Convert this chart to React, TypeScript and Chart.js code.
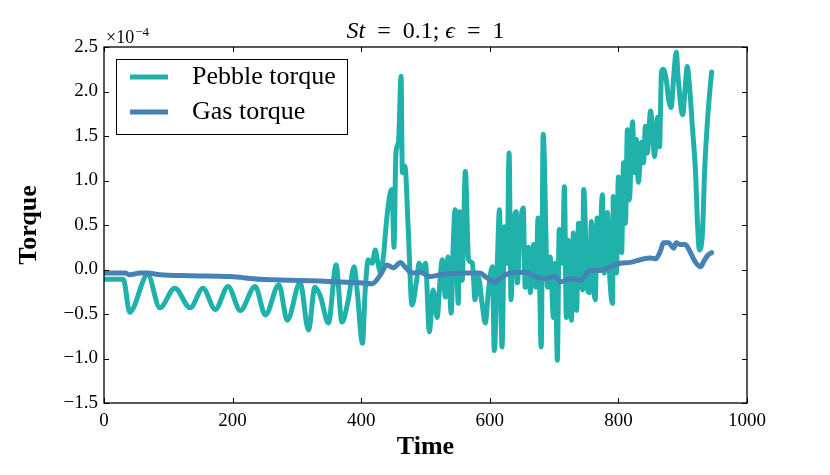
import { useEffect, useRef } from "react";
import { Chart, registerables } from "chart.js";

Chart.register(...registerables);

// values in units of 1e-4
const pebbleTime = [
  0, 30, 40, 68, 87, 110, 134, 154, 173, 193,
  212, 235, 251, 272, 285, 305, 318, 328, 336, 349,
  361, 370, 380, 389, 394, 402, 406, 411, 417, 422,
  425, 430, 434, 440, 445, 448, 451, 454, 458, 462,
  464, 468, 473, 479, 487, 490, 495, 500, 506, 512,
  518, 523, 526, 531, 535, 540, 543, 546, 551, 553,
  557, 562, 567, 573, 577, 582, 588, 593, 598, 604,
  607, 612, 615, 619, 623, 627, 630, 633, 637, 641,
  643, 647, 652, 655, 660, 663, 668, 672, 675, 680,
  683, 690, 694, 699, 702, 705, 708, 713, 716, 719,
  722, 727, 730, 735, 738, 741, 744, 746, 752, 755,
  758, 761, 764, 767, 770, 775, 778, 783, 786, 791,
  792, 797, 800, 805, 808, 811, 814, 817, 822, 825,
  828, 831, 836, 839, 842, 845, 850, 854, 856, 861,
  864, 867, 870, 875, 878, 882, 886, 890, 893, 900,
  904, 907, 911, 915, 920, 923, 926, 931, 934, 939,
  942, 945,
];
const pebbleTorque = [
  -0.11, -0.11, -0.48, -0.06, -0.43, -0.21, -0.43, -0.21, -0.45, -0.19,
  -0.46, -0.19, -0.51, -0.17, -0.57, -0.15, -0.68, -0.2, -0.29, -0.6,
  0.05, -0.59, -0.34, 0.03, -0.26, -0.83, -0.26, 0.11, 0.07, 0.22,
  0.11, -0.03, 0.11, 0.59, 0.86, 0.9, 0.25, 1.31, 1.43, 2.17,
  1.09, 1.16, 0.48, -0.4, -0.08, 0.07, -0.01, 0.07, -0.7, -0.23,
  -0.54, -0.08, 0.11, -0.31, 0.14, -0.49, 0.25, 0.67, -0.38, 0.65,
  -0.12, 1.1, 0.11, 0.07, -0.34, -0.08, -0.38, -0.6, -0.23, 0.03,
  -0.91, 0.14, 0.67, -0.87, 0.48, 0.07, 1.31, -0.34, 0.45, 0.65,
  -0.15, 0.45, 0.69, -0.2, 0.25, -0.26, 0.28, -0.2, 0.58, -0.87,
  1.52, -0.2, 0.14, -0.54, 0.07, -1.02, 0.45, 0.07, 0.93, -0.54,
  0.33, -0.57, 0.41, -0.46, 0.52, 0.48, -0.23, 0.9, -0.23, -0.26,
  0.54, -0.12, -0.34, 0.58, -0.01, 0.84, -0.04, 0.64, -0.01, -0.38,
  0.82, -0.04, 1.04, 0.19, 1.2, 0.52, 1.57, 0.78, 1.66, 1.09,
  1.46, 0.98, 1.43, 1.2, 1.61, 1.31, 1.78, 1.46, 1.27, 1.71,
  1.38, 2.22, 2.25, 2.1, 1.91, 1.82, 2.17, 2.44, 2.14, 1.74,
  2.06, 2.28, 2.02, 1.61, 1.09, 0.52, 0.22, 0.45, 1.09, 1.72,
  1.99, 2.22,
];

const gasTime = [
  0, 17, 33, 40, 56, 68, 87, 134, 196, 243,
  289, 336, 367, 398, 417, 430, 440, 450, 461, 468,
  479, 492, 507, 523, 559, 585, 593, 609, 616, 632,
  655, 671, 686, 702, 710, 725, 741, 756, 772, 788,
  803, 819, 834, 850, 858, 866, 870, 878, 886, 890,
  896, 904, 912, 920, 928, 932, 939, 945,
];
const gasTorque = [
  -0.04, -0.04, -0.04, -0.06, -0.04, -0.04, -0.06, -0.07, -0.08, -0.11,
  -0.12, -0.13, -0.14, -0.15, -0.16, -0.06, 0.05, 0.02, 0.08, 0.03,
  -0.04, -0.03, -0.08, -0.06, -0.04, -0.04, -0.08, -0.14, -0.1, -0.04,
  -0.03, -0.08, -0.1, -0.08, -0.14, -0.1, -0.12, -0.01, -0.01, 0.03,
  0.07, 0.08, 0.11, 0.13, 0.12, 0.22, 0.3, 0.3, 0.24, 0.3,
  0.28, 0.28, 0.19, 0.08, 0.03, 0.08, 0.16, 0.19,
];

const xTicks = [0, 200, 400, 600, 800, 1000];
const yTicks = [-1.5, -1.0, -0.5, 0.0, 0.5, 1.0, 1.5, 2.0, 2.5];

const PEBBLE = "#20B2AA";
const GAS = "#4682B4";
const SERIF = "'Liberation Serif', 'DejaVu Serif', serif";

const fmtY = (v: number) => (v < 0 ? "\u2212" + Math.abs(v).toFixed(1) : v.toFixed(1));

const framePlugin = {
  id: "frame",
  afterDatasetsDraw(chart: any) {
    const { ctx, chartArea: a, scales } = chart;
    ctx.save();

    // axes box with inward ticks
    ctx.strokeStyle = "#000";
    ctx.lineWidth = 1.3;
    ctx.strokeRect(a.left, a.top, a.right - a.left, a.bottom - a.top);
    ctx.lineWidth = 1;
    ctx.beginPath();
    xTicks.forEach((v) => {
      const px = Math.round(scales.x.getPixelForValue(v)) + 0.5;
      ctx.moveTo(px, a.bottom);
      ctx.lineTo(px, a.bottom - 5);
      ctx.moveTo(px, a.top);
      ctx.lineTo(px, a.top + 5);
    });
    yTicks.forEach((v) => {
      const py = Math.round(scales.y.getPixelForValue(v)) + 0.5;
      ctx.moveTo(a.left, py);
      ctx.lineTo(a.left + 5, py);
      ctx.moveTo(a.right, py);
      ctx.lineTo(a.right - 5, py);
    });
    ctx.stroke();

    // title with italic math parts
    const parts = [
      { t: "St", f: `italic 24px ${SERIF}` },
      { t: "\u2002=\u20020.1; ", f: `24px ${SERIF}` },
      { t: "\u03F5", f: `italic 24px ${SERIF}` },
      { t: "\u2002=\u20021", f: `24px ${SERIF}` },
    ];
    let total = 0;
    parts.forEach((p) => {
      ctx.font = p.f;
      total += ctx.measureText(p.t).width;
    });
    let tx = (a.left + a.right) / 2 - total / 2;
    ctx.fillStyle = "#000";
    ctx.textBaseline = "alphabetic";
    ctx.textAlign = "left";
    parts.forEach((p) => {
      ctx.font = p.f;
      ctx.fillText(p.t, tx, 38);
      tx += ctx.measureText(p.t).width;
    });

    // offset text ×10^-4
    ctx.font = `18px ${SERIF}`;
    ctx.fillText("\u00D710", a.left + 2, 43);
    const w = ctx.measureText("\u00D710").width;
    ctx.font = `13px ${SERIF}`;
    ctx.fillText("\u22124", a.left + 3 + w, 36);

    // legend
    const lx = 116, ly = 59, lw = 231, lh = 75;
    ctx.fillStyle = "#fff";
    ctx.fillRect(lx, ly, lw, lh);
    ctx.strokeStyle = "#000";
    ctx.lineWidth = 1;
    ctx.strokeRect(lx + 0.5, ly + 0.5, lw, lh);
    const entries = [
      { label: "Pebble torque", color: PEBBLE, y: 77 },
      { label: "Gas torque", color: GAS, y: 112 },
    ];
    entries.forEach((e) => {
      ctx.strokeStyle = e.color;
      ctx.lineWidth = 5;
      ctx.beginPath();
      ctx.moveTo(130, e.y);
      ctx.lineTo(168, e.y);
      ctx.stroke();
      ctx.fillStyle = "#000";
      ctx.font = `26px ${SERIF}`;
      ctx.textBaseline = "middle";
      ctx.fillText(e.label, 192, e.y);
    });

    ctx.restore();
  },
};

export default function App() {
  const canvasRef = useRef<HTMLCanvasElement | null>(null);

  useEffect(() => {
    document.body.style.margin = "0";
    if (!canvasRef.current) return;

    const chart = new Chart(canvasRef.current, {
      type: "line",
      data: {
        datasets: [
          {
            label: "Pebble torque",
            data: pebbleTime.map((t, i) => ({ x: t, y: pebbleTorque[i] })),
            borderColor: PEBBLE,
            borderWidth: 5,
            borderJoinStyle: "round",
            borderCapStyle: "round",
            pointRadius: 0,
            cubicInterpolationMode: "monotone",
            order: 1,
          },
          {
            label: "Gas torque",
            data: gasTime.map((t, i) => ({ x: t, y: gasTorque[i] })),
            borderColor: GAS,
            borderWidth: 5,
            borderJoinStyle: "round",
            borderCapStyle: "round",
            pointRadius: 0,
            cubicInterpolationMode: "monotone",
            order: 0,
          },
        ],
      },
      options: {
        animation: false,
        responsive: true,
        maintainAspectRatio: false,
        layout: { padding: { top: 47, right: 83, left: 0, bottom: 0 } },
        plugins: {
          legend: { display: false },
          tooltip: { enabled: false },
          title: { display: false },
        },
        scales: {
          x: {
            type: "linear",
            min: 0,
            max: 1000,
            grid: { display: false, drawTicks: false },
            border: { display: false },
            afterBuildTicks: (s: any) => {
              s.ticks = xTicks.map((v) => ({ value: v }));
            },
            afterFit: (s: any) => {
              s.height = 72;
            },
            ticks: {
              color: "#000",
              padding: 7,
              maxRotation: 0,
              font: { family: SERIF, size: 19 },
              callback: (v: any) => String(v),
            },
            title: {
              display: true,
              text: "Time",
              color: "#000",
              font: { family: SERIF, size: 26, weight: "bold" },
              padding: { top: 0, bottom: 12 },
            },
          },
          y: {
            type: "linear",
            min: -1.5,
            max: 2.5,
            grid: { display: false, drawTicks: false },
            border: { display: false },
            afterBuildTicks: (s: any) => {
              s.ticks = yTicks.map((v) => ({ value: v }));
            },
            afterFit: (s: any) => {
              s.width = 104;
            },
            ticks: {
              color: "#000",
              padding: 6,
              font: { family: SERIF, size: 19 },
              callback: (v: any) => fmtY(Number(v)),
            },
            title: {
              display: true,
              text: "Torque",
              color: "#000",
              font: { family: SERIF, size: 26, weight: "bold" },
              padding: { top: 14, bottom: 0 },
            },
          },
        },
      },
      plugins: [framePlugin],
    });

    return () => {
      chart.destroy();
    };
  }, []);

  return (
    <div style={{ position: "absolute", left: 0, top: 0, width: 830, height: 475, background: "#fff" }}>
      <canvas ref={canvasRef}></canvas>
    </div>
  );
}
